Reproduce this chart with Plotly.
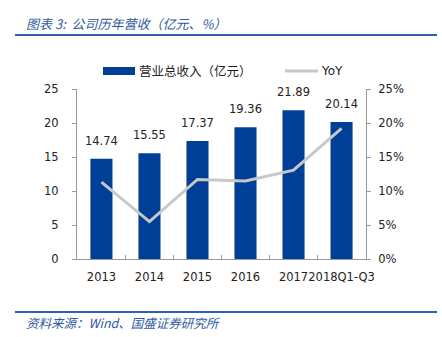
import plotly.graph_objects as go

categories = ["2013", "2014", "2015", "2016", "2017", "2018Q1-Q3"]
revenue = [14.74, 15.55, 17.37, 19.36, 21.89, 20.14]
yoy = [0.113, 0.055, 0.117, 0.1146, 0.1307, 0.192]
left_ticks = [0, 5, 10, 15, 20, 25]
right_ticks = [0, 0.05, 0.10, 0.15, 0.20, 0.25]

BLUE = "#003F98"
GREY = "#C8C8C8"
NUM_FONT = "DejaVu Sans"
CJK_FONT = "Noto Sans CJK SC"
FS = 11.5

fig = go.Figure()
fig.add_trace(go.Bar(
    x=categories, y=revenue, name="营业总收入（亿元）",
    marker=dict(color=BLUE, line=dict(width=0)),
    showlegend=False,
))
fig.add_trace(go.Scatter(
    x=categories, y=yoy, name="YoY", yaxis="y2", mode="lines",
    line=dict(color=GREY, width=3), showlegend=False,
))
# value labels above bars
fig.add_trace(go.Scatter(
    x=categories, y=revenue, mode="markers+text",
    text=[f"{v:.2f}" for v in revenue], textposition="top center",
    marker=dict(size=16, opacity=0), cliponaxis=False,
    textfont=dict(family=NUM_FONT, size=FS, color="#222"),
    hoverinfo="skip", showlegend=False,
))

fig.update_layout(
    width=442, height=337,
    margin=dict(l=77, r=76, t=89, b=78),
    paper_bgcolor="white", plot_bgcolor="white",
    bargap=0.54,
    font=dict(family=NUM_FONT, size=FS, color="#222"),
    xaxis=dict(
        type="category",
        showline=True, linecolor="#999", linewidth=1, mirror=False,
        ticks="inside", tickson="boundaries", ticklen=4, tickcolor="#999",
        tickangle=0, ticklabelstandoff=7,
        tickfont=dict(family=NUM_FONT, size=FS, color="#222"),
        showgrid=False,
    ),
    yaxis=dict(
        range=[0, 25], tickvals=left_ticks, showgrid=False, zeroline=False,
        showline=True, linecolor="#999", linewidth=1,
        ticks="outside", ticklen=4, tickcolor="#999", ticklabelstandoff=11,
        tickfont=dict(family=NUM_FONT, size=FS, color="#222"),
    ),
    yaxis2=dict(
        range=[0, 0.25], tickvals=right_ticks, tickformat=".0%",
        overlaying="y", side="right", showgrid=False, zeroline=False,
        showline=True, linecolor="#999", linewidth=1,
        ticks="outside", ticklen=4, tickcolor="#999", ticklabelstandoff=5,
        tickfont=dict(family=NUM_FONT, size=FS, color="#222"),
    ),
    showlegend=False,
)

def px_x(p):
    return (p - 77) / (442 - 77 - 76)

def px_y(p):
    return (337 - 78 - p) / (337 - 89 - 78)

shapes = [
    dict(type="line", xref="paper", yref="paper", x0=px_x(15), x1=px_x(437),
         y0=px_y(35), y1=px_y(35), line=dict(color="#2E62AE", width=2)),
    dict(type="line", xref="paper", yref="paper", x0=px_x(15), x1=px_x(437),
         y0=px_y(312), y1=px_y(312), line=dict(color="#2E62AE", width=2)),
    dict(type="rect", xref="paper", yref="paper", x0=px_x(103), x1=px_x(135),
         y0=px_y(75), y1=px_y(67), fillcolor=BLUE, line=dict(width=0)),
    dict(type="line", xref="paper", yref="paper", x0=px_x(285), x1=px_x(318),
         y0=px_y(71), y1=px_y(71), line=dict(color=GREY, width=3)),
]
fig.update_layout(shapes=shapes)

annotations = [
    dict(text="<i>图表 3:  公司历年营收（亿元、%）</i>", xref="paper", yref="paper",
         x=px_x(24), y=px_y(23), xanchor="left", yanchor="middle", showarrow=False,
         font=dict(family=CJK_FONT, size=13, color="#2E5A9E")),
    dict(text="<i>资料来源：Wind、国盛证券研究所</i>", xref="paper", yref="paper",
         x=px_x(24), y=px_y(322), xanchor="left", yanchor="middle", showarrow=False,
         font=dict(family=CJK_FONT, size=12.5, color="#2E5A9E")),
    dict(text="营业总收入（亿元）", xref="paper", yref="paper",
         x=px_x(137), y=px_y(71), xanchor="left", yanchor="middle", showarrow=False,
         font=dict(family=CJK_FONT, size=12.5, color="#222")),
    dict(text="YoY", xref="paper", yref="paper",
         x=px_x(319), y=px_y(71), xanchor="left", yanchor="middle", showarrow=False,
         font=dict(family=NUM_FONT, size=12, color="#222")),
]
fig.update_layout(annotations=annotations)

fig.write_html("out.html")
